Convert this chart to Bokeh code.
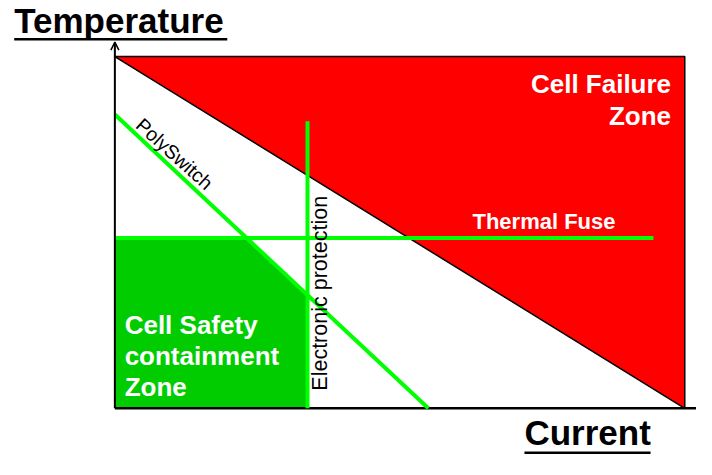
import math
from bokeh.plotting import figure
from bokeh.models import Range1d, Arrow, OpenHead
from bokeh.core.properties import value
from bokeh.embed import file_html
from bokeh.resources import INLINE

# ---- diagram data (Current on x, Temperature on y, both 0..100) ----
failure_x = [0, 100, 100]
failure_y = [100, 100, 0]
polyswitch_x = [0, 55]
polyswitch_y = [83.5, 0]
electronic_x = [33.8, 33.8]
electronic_y = [0, 81.6]
fuse_x = [0, 94.5]
fuse_y = [48.4, 48.4]

axis_title_x = "Current"
axis_title_y = "Temperature"
failure_label = ["Cell Failure", "Zone"]
safety_label = ["Cell Safety", "containment", "Zone"]
fuse_label = "Thermal Fuse"
electronic_label = "Electronic protection"
polyswitch_label = "PolySwitch"

# safety zone: below the fuse, left of electronic protection, under PolySwitch
def poly_x_at(y):
    return polyswitch_x[0] + (y - polyswitch_y[0]) * (polyswitch_x[1] - polyswitch_x[0]) / (polyswitch_y[1] - polyswitch_y[0])

def poly_y_at(x):
    return polyswitch_y[0] + (x - polyswitch_x[0]) * (polyswitch_y[1] - polyswitch_y[0]) / (polyswitch_x[1] - polyswitch_x[0])

safe_x = [0, 0, poly_x_at(fuse_y[0]), electronic_x[0], electronic_x[0]]
safe_y = [0, fuse_y[0], fuse_y[0], poly_y_at(electronic_x[0]), 0]

# ---- geometry: reference frame 712x475 shown in a 696x459 figure ----
W, H = 696, 459
RW, RH = 712, 475
X0, Y0, SX, SY = 117, 422, 5.83, 3.64
KX, KY = W / RW, H / RH


def dx(px):
    return (px - X0) / SX


def dy(py):
    return (Y0 - py) / SY


p = figure(width=W, height=H, output_backend="svg", toolbar_location=None,
           x_range=Range1d(dx(0), dx(RW)), y_range=Range1d(dy(RH), dy(0)),
           x_axis_type=None, y_axis_type=None, min_border=0)
p.grid.visible = False
p.outline_line_color = None
p.background_fill_color = "white"
p.border_fill_color = "white"

RED = "#FF0000"
DARKGREEN = "#00CC00"
GREEN = "#00FF00"
FONT = value("Liberation Sans")
SHIFT = 0.36  # compensate the renderer's baseline offset (in em)


def label(rx, ry, txt, size, color="white", bold=True, align="left", angle=0.0):
    # (rx, ry): baseline anchor in reference pixels
    down_x, down_y = math.sin(angle), math.cos(angle)
    ax = rx - SHIFT * size * down_x / KX
    ay = ry - SHIFT * size * down_y / KY
    p.text(x=[dx(ax)], y=[dy(ay)], text=[txt], text_font=FONT,
           text_font_style="bold" if bold else "normal",
           text_font_size=f"{size}px", text_baseline="alphabetic",
           text_align=align, text_color=color, angle=angle)


# failure zone
p.patch(failure_x, failure_y, fill_color=RED, line_color="black", line_width=1.5)
# safety zone
p.patch(safe_x, safe_y, fill_color=DARKGREEN, line_color=None)

# axes
p.segment(x0=[0], y0=[0], x1=[dx(RW)], y1=[0], line_color="black", line_width=2.5)
p.add_layout(Arrow(x_start=0, y_start=0, x_end=0, y_end=dy(43),
                   line_color="black", line_width=2,
                   end=OpenHead(size=8, line_width=1.5, line_color="black")))

# protection lines
p.line(fuse_x, fuse_y, line_color=GREEN, line_width=4)
p.line(electronic_x, electronic_y, line_color=GREEN, line_width=4)
p.line(polyswitch_x, polyswitch_y, line_color=GREEN, line_width=4)

# axis titles with underline
label(14, 34, axis_title_y, 35, color="black")
p.segment(x0=[dx(14)], y0=[dy(40)], x1=[dx(232)], y1=[dy(40)], line_color="black", line_width=2.5)
label(536, 460, axis_title_x, 35, color="black")
p.segment(x0=[dx(536)], y0=[dy(468)], x1=[dx(665)], y1=[dy(468)], line_color="black", line_width=2.5)

# zone labels
label(686, 96, failure_label[0], 26, align="right")
label(686, 129, failure_label[1], 26, align="right")
for txt, by in zip(safety_label, [345, 377.5, 410]):
    label(127, by, txt, 26)
label(556, 237, fuse_label, 22, align="center")

# line labels
label(335, 303, electronic_label, 21.5, color="black", bold=False, align="center",
      angle=math.pi / 2)
label(137, 131, polyswitch_label, 19.5, color="black", bold=False,
      angle=-math.radians(42))

open("out.html", "w").write(file_html(p, INLINE))
